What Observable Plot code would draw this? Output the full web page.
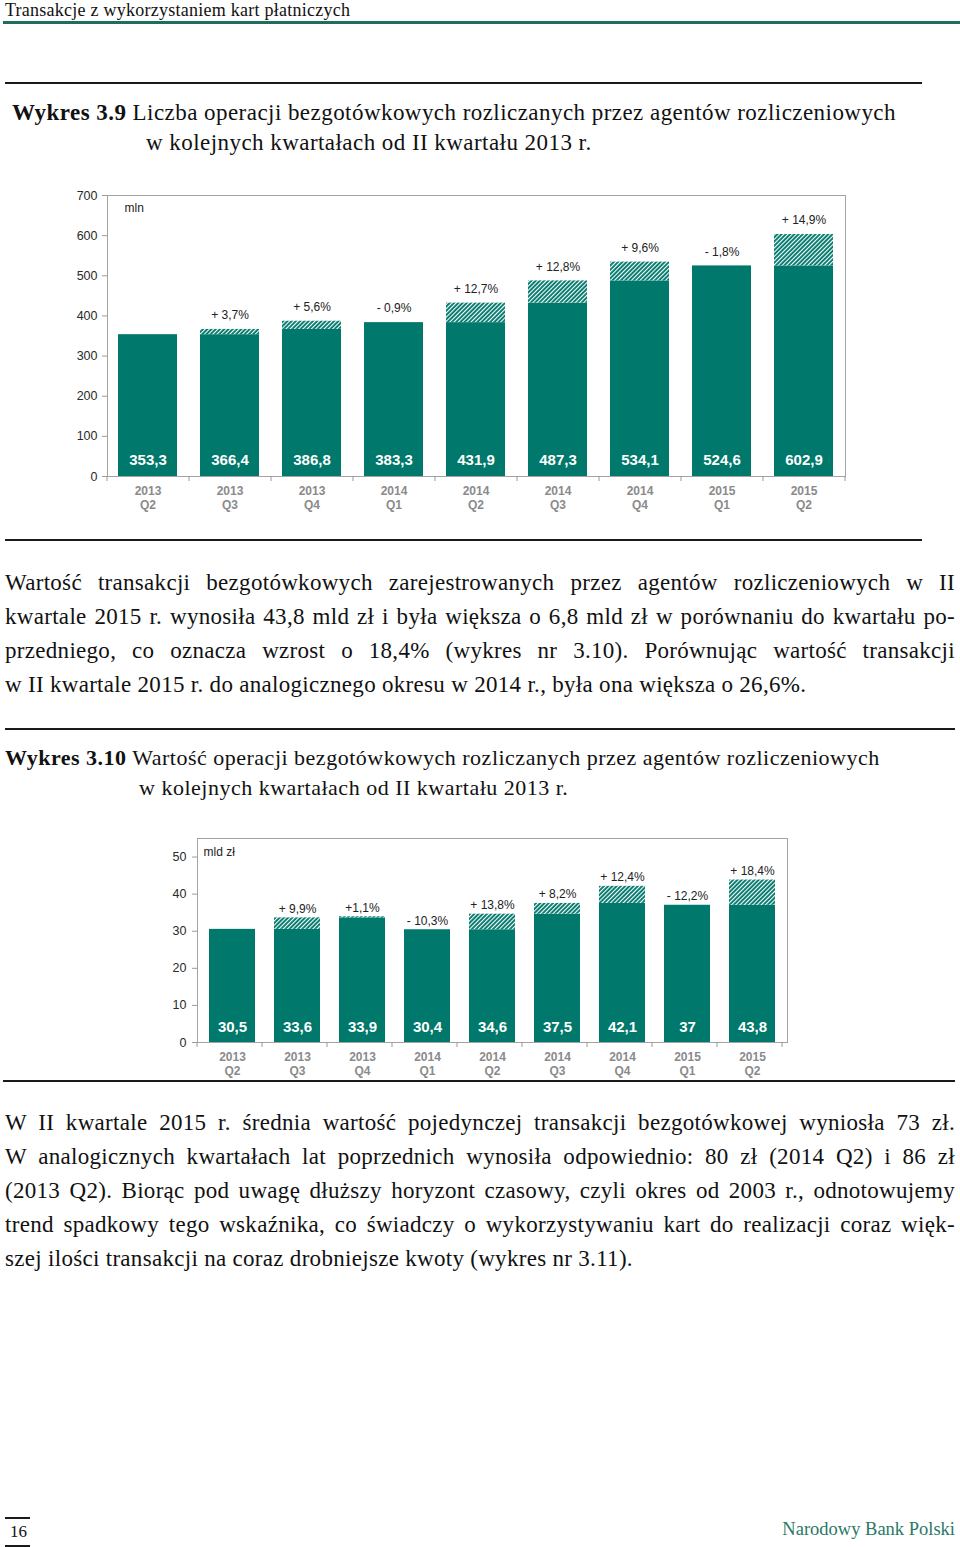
<!DOCTYPE html>
<html><head><meta charset="utf-8">
<script src="https://cdn.jsdelivr.net/npm/d3@7"></script>
<script src="https://cdn.jsdelivr.net/npm/@observablehq/plot@0.6"></script>
<style>
body{margin:0;background:#fff;}
#page{position:relative;width:960px;height:1547px;overflow:hidden;font-family:"Liberation Serif",serif;color:#111;background:#fff;}
.line{position:absolute;white-space:nowrap;line-height:30px;height:30px;font-size:23px;letter-spacing:0.3px;}
.t1{font-size:23px;letter-spacing:0.45px;}
.t2{font-size:22px;letter-spacing:0.5px;}
.rule{position:absolute;background:#1a1a1a;}
.chart{position:absolute;}
</style></head>
<body>
<svg width="0" height="0" style="position:absolute">
  <defs>
    <pattern id="hatch" patternUnits="userSpaceOnUse" width="3" height="3" patternTransform="rotate(45)">
      <rect width="3" height="3" fill="#00786b"></rect>
      <rect width="1.1" height="3" fill="#ffffff"></rect>
    </pattern>
  </defs>
</svg>
<div id="page">
  <div class="line" style="left:5px;top:-5px;font-size:18px;letter-spacing:0.25px;">Transakcje z wykorzystaniem kart płatniczych</div>
  <div class="rule" style="left:3px;top:21px;width:957px;height:3px;background:#1f6d5e;"></div>

  <div class="rule" style="left:5px;top:82px;width:917px;height:1.5px;"></div>
  <div class="line t1" style="left:12px;top:98px;"><b>Wykres 3.9</b> Liczba operacji bezgotówkowych rozliczanych przez agentów rozliczeniowych</div>
  <div class="line t1" style="left:146px;top:128px;">w kolejnych kwartałach od II kwartału 2013 r.</div>

  <div id="chart1" class="chart" style="left:60px;top:185px;"></div>
  <div class="rule" style="left:5px;top:539px;width:917px;height:1.5px;"></div>

  <div class="line j" data-w="950" style="left:5px;top:568px;">Wartość transakcji bezgotówkowych zarejestrowanych przez agentów rozliczeniowych w II</div>
  <div class="line j" data-w="950" style="left:5px;top:602px;">kwartale 2015 r. wynosiła 43,8 mld zł i była większa o 6,8 mld zł w porównaniu do kwartału po-</div>
  <div class="line j" data-w="950" style="left:5px;top:636px;">przedniego, co oznacza wzrost o 18,4% (wykres nr 3.10). Porównując wartość transakcji</div>
  <div class="line" style="left:5px;top:670px;">w II kwartale 2015 r. do analogicznego okresu w 2014 r., była ona większa o 26,6%.</div>

  <div class="rule" style="left:5px;top:728px;width:950px;height:1.5px;"></div>
  <div class="line t2" style="left:5px;top:743px;"><b>Wykres 3.10</b> Wartość operacji bezgotówkowych rozliczanych przez agentów rozliczeniowych</div>
  <div class="line t2" style="left:139px;top:773px;">w kolejnych kwartałach od II kwartału 2013 r.</div>

  <div id="chart2" class="chart" style="left:150px;top:828px;"></div>
  <div class="rule" style="left:3px;top:1080px;width:952px;height:2px;"></div>

  <div class="line j" data-w="950" style="left:5px;top:1108px;">W II kwartale 2015 r. średnia wartość pojedynczej transakcji bezgotówkowej wyniosła 73 zł.</div>
  <div class="line j" data-w="950" style="left:5px;top:1142px;">W analogicznych kwartałach lat poprzednich wynosiła odpowiednio: 80 zł (2014 Q2) i 86 zł</div>
  <div class="line j" data-w="950" style="left:5px;top:1176px;">(2013 Q2). Biorąc pod uwagę dłuższy horyzont czasowy, czyli okres od 2003 r., odnotowujemy</div>
  <div class="line j" data-w="950" style="left:5px;top:1210px;">trend spadkowy tego wskaźnika, co świadczy o wykorzystywaniu kart do realizacji coraz więk-</div>
  <div class="line" style="left:5px;top:1244px;">szej ilości transakcji na coraz drobniejsze kwoty (wykres nr 3.11).</div>

  <div class="rule" style="left:5px;top:1517px;width:25px;height:1.5px;"></div>
  <div class="line" style="left:10px;top:1517px;font-size:17px;letter-spacing:0;">16</div>
  <div class="rule" style="left:5px;top:1545px;width:25px;height:1.5px;"></div>
  <div class="line" style="right:5px;top:1514px;font-size:18.5px;letter-spacing:0;color:#2a7866;">Narodowy Bank Polski</div>
</div>
<script>
// ---- data ----
const years = ["2013", "2013", "2013", "2014", "2014", "2014", "2014", "2015", "2015"];
const quarters = ["Q2", "Q3", "Q4", "Q1", "Q2", "Q3", "Q4", "Q1", "Q2"];
const countMln = [353.3, 366.4, 386.8, 383.3, 431.9, 487.3, 534.1, 524.6, 602.9];
const countChange = ["", "+ 3,7%", "+ 5,6%", "- 0,9%", "+ 12,7%", "+ 12,8%", "+ 9,6%", "- 1,8%", "+ 14,9%"];
const valueBn = [30.5, 33.6, 33.9, 30.4, 34.6, 37.5, 42.1, 37, 43.8];
const valueChange = ["", "+ 9,9%", "+1,1%", "- 10,3%", "+ 13,8%", "+ 8,2%", "+ 12,4%", "- 12,2%", "+ 18,4%"];
const countTicks = [0, 100, 200, 300, 400, 500, 600, 700];
const valueTicks = [0, 10, 20, 30, 40, 50];

const TEAL = "#00786b";
const fmt = v => String(v).replace(".", ",");

// small ticks below the x axis at the borders between categories
function boundaryTicks(cats, len) {
  return (index, scales, values, dims) => {
    const x = scales.x;
    const step = x(cats[1]) - x(cats[0]);
    const x0 = dims.marginLeft;
    const yb = dims.height - dims.marginBottom;
    const g = d3.create("svg:g").attr("stroke", "#9a9a9a");
    for (let i = 0; i <= cats.length; ++i) {
      const b = x0 + i * step;
      g.append("line").attr("x1", b).attr("x2", b).attr("y1", yb).attr("y2", yb + len);
    }
    return g.node();
  };
}

function makeChart(cfg) {
  const rows = years.map((yr, i) => {
    const v = cfg.values[i];
    const prev = i ? cfg.values[i - 1] : v;
    return {c: yr + " " + quarters[i], year: yr, q: quarters[i], v, prev, solid: Math.min(v, prev), ch: cfg.changes[i]};
  });
  const cats = rows.map(r => r.c);
  const hatched = rows.filter(r => r.v > r.prev);
  return Plot.plot({
    width: cfg.width, height: cfg.height,
    marginLeft: cfg.ml, marginRight: cfg.mr, marginTop: cfg.mt, marginBottom: cfg.mb,
    style: {fontFamily: "'Liberation Sans', Arial, sans-serif", fontSize: "12px", background: "transparent", overflow: "visible"},
    x: {domain: cats, paddingInner: cfg.pad, paddingOuter: cfg.pad / 2, axis: null},
    y: {domain: [0, cfg.max], axis: null, label: null},
    marks: [
      Plot.barY(rows, {x: "c", y1: 0, y2: "solid", fill: TEAL}),
      Plot.barY(hatched, {x: "c", y1: "prev", y2: "v", fill: "url(#hatch)"}),
      Plot.frame({stroke: "#a3a3a3"}),
      Plot.axisY({ticks: cfg.ticks, tickSize: 5, tickPadding: cfg.tp, fontSize: cfg.tickFont, color: "#2a2a2a", stroke: "#9a9a9a", label: null, tickFormat: d => String(d)}),
      boundaryTicks(cats, 5),
      Plot.text(rows, {x: "c", y: 0, text: r => fmt(r.v), dy: cfg.valDy, fill: "white", fontWeight: "bold", fontSize: cfg.valFont}),
      Plot.text(rows, {x: "c", y: "v", text: "ch", dy: cfg.chDy, fontSize: 12, fill: "#222"}),
      Plot.text(rows, {x: "c", text: r => r.year + "\n" + r.q, frameAnchor: "bottom", lineAnchor: "top", dy: 8, fill: "#8a8a8a", fontWeight: "bold", fontSize: 12, lineHeight: 1.2}),
      Plot.text([cfg.unit], {frameAnchor: "top-left", text: d => d, textAnchor: "start", lineAnchor: "middle", dx: cfg.unitDx, dy: cfg.unitDy, fontSize: 12, fill: "#222"})
    ]
  });
}

document.getElementById("chart1").append(makeChart({
  values: countMln, changes: countChange, ticks: countTicks, max: 700, unit: "mln",
  width: 800, height: 340, ml: 47, mr: 15, mt: 10, mb: 49, pad: 0.28, tp: 5, tickFont: 12.5,
  valDy: -16, valFont: 15, chDy: -14, unitDx: 17, unitDy: 13
}));
document.getElementById("chart2").append(makeChart({
  values: valueBn, changes: valueChange, ticks: valueTicks, max: 55, unit: "mld zł",
  width: 650, height: 250, ml: 47, mr: 13, mt: 10, mb: 36, pad: 0.3, tp: 6, tickFont: 12.5,
  valDy: -15, valFont: 15, chDy: -9, unitDx: 6, unitDy: 14
}));

// justify single lines to their target width
document.querySelectorAll(".line.j").forEach(el => {
  const target = +el.dataset.w;
  const span = document.createElement("span");
  span.textContent = el.textContent;
  el.textContent = "";
  el.append(span);
  const natural = span.getBoundingClientRect().width;
  const spaces = (span.textContent.match(/ /g) || []).length;
  if (spaces) el.style.wordSpacing = ((target - natural) / spaces) + "px";
});
</script>
</body></html>
